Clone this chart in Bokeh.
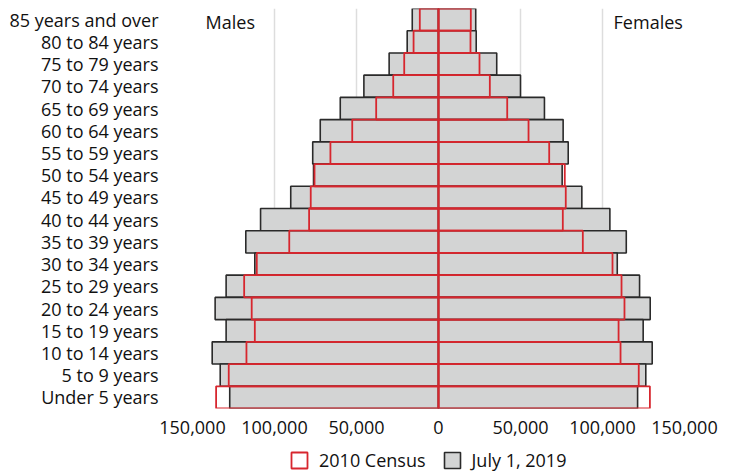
from bokeh.plotting import figure
from bokeh.layouts import column
from bokeh.models import FixedTicker, CustomJSTickFormatter, Legend, LegendItem, ColumnDataSource, FactorRange, Range1d
from bokeh.core.properties import value
from bokeh.embed import file_html
from bokeh.resources import INLINE

age_groups = ["85 years and over", "80 to 84 years", "75 to 79 years", "70 to 74 years",
              "65 to 69 years", "60 to 64 years", "55 to 59 years", "50 to 54 years",
              "45 to 49 years", "40 to 44 years", "35 to 39 years", "30 to 34 years",
              "25 to 29 years", "20 to 24 years", "15 to 19 years", "10 to 14 years",
              "5 to 9 years", "Under 5 years"]
males_2019 = [16000, 19100, 30100, 45500, 59900, 72100, 76700, 76200, 90100, 108500,
              117500, 112000, 129500, 136200, 129500, 138000, 133100, 127300]
males_2010 = [11400, 15200, 20900, 27600, 38000, 52600, 65900, 75600, 77900, 78900,
              91000, 110800, 118500, 113900, 112000, 117100, 127900, 135600]
females_2019 = [22700, 23000, 35500, 50000, 64600, 76000, 79100, 75400, 87400, 104500,
                114500, 109000, 122600, 129100, 124800, 130300, 126400, 121400]
females_2010 = [19700, 19500, 25000, 31300, 41900, 54900, 67500, 77000, 77600, 75800,
                88000, 106100, 111600, 113400, 109800, 111000, 122100, 128900]
tick_values = [-150000, -100000, -50000, 0, 50000, 100000, 150000]
series_labels = ["2010 Census", "July 1, 2019"]

FONT = "Open Sans"
GREY = "#d3d4d4"
DARK = "#2a2a2a"
RED = "#d7262e"

cats = list(reversed(age_groups))

p = figure(frame_width=492, frame_height=400, y_range=cats, x_range=(-150000, 150000),
           output_backend="svg", toolbar_location=None,
           min_border_left=192, min_border_right=49, min_border_top=8, min_border_bottom=32)

src = ColumnDataSource(dict(
    age=age_groups,
    m19=[-v for v in males_2019],
    m10=[-v for v in males_2010],
    f19=females_2019,
    f10=females_2010,
))

p.hbar(y="age", left="m19", right=0, height=1.0, source=src,
       fill_color=GREY, line_color=DARK, line_width=1.6)
p.hbar(y="age", left=0, right="f19", height=1.0, source=src,
       fill_color=GREY, line_color=DARK, line_width=1.6)
p.hbar(y="age", left="m10", right=0, height=1.0, source=src,
       fill_color=None, line_color=RED, line_width=1.8)
p.hbar(y="age", left=0, right="f10", height=1.0, source=src,
       fill_color=None, line_color=RED, line_width=1.8)

p.text(x=[-142000], y=["85 years and over"], text=["Males"], text_align="left",
       text_baseline="middle", text_font=value(FONT), text_font_size="18px",
       text_color="#111111", y_offset=2)
p.text(x=[149000], y=["85 years and over"], text=["Females"], text_align="right",
       text_baseline="middle", text_font=value(FONT), text_font_size="18px",
       text_color="#111111", y_offset=2)

p.xaxis.ticker = FixedTicker(ticks=tick_values)
p.xaxis.formatter = CustomJSTickFormatter(code="return Math.abs(tick).toLocaleString('en-US');")
p.xgrid.ticker = FixedTicker(ticks=tick_values)
p.xgrid.grid_line_color = "#dddddd"
p.xgrid.grid_line_width = 1.5
p.ygrid.grid_line_color = None

for ax in (p.xaxis, p.yaxis):
    ax.axis_line_color = None
    ax.major_tick_line_color = None
    ax.minor_tick_line_color = None
    ax.major_tick_out = 0
    ax.major_tick_in = 0
    ax.major_label_text_font = FONT
    ax.major_label_text_font_size = "18px"
    ax.major_label_text_color = "#111111"
p.xaxis.major_label_standoff = 12
p.yaxis.major_label_standoff = 34

p.y_range.range_padding = 0
p.outline_line_color = None

# legend strip below the chart; its y range holds none of the age factors,
# so the bars themselves are not drawn there, only their legend swatches
lg = figure(width=733, height=32, output_backend="svg", toolbar_location=None,
            x_axis_location=None, y_axis_location=None, min_border=0,
            x_range=Range1d(-150000, 150000), y_range=FactorRange(factors=["legend"]))
lg.outline_line_color = None
lg.grid.grid_line_color = None
lr1 = lg.hbar(y="age", left=0, right="f10", height=1.0, source=src,
              fill_color=None, line_color=RED, line_width=1.8)
lr2 = lg.hbar(y="age", left=0, right="f19", height=1.0, source=src,
              fill_color=GREY, line_color=DARK, line_width=1.6)
legend = Legend(items=[LegendItem(label=series_labels[0], renderers=[lr1]),
                       LegendItem(label=series_labels[1], renderers=[lr2])],
                orientation="horizontal", location=(97, 0),
                label_text_font=FONT, label_text_font_size="18px",
                label_text_color="#111111",
                glyph_width=20, glyph_height=20, label_standoff=10, spacing=16,
                padding=0, margin=0, border_line_color=None, background_fill_alpha=0)
lg.add_layout(legend, "center")

layout = column(p, lg, spacing=0)
open("out.html", "w").write(file_html(layout, INLINE))
